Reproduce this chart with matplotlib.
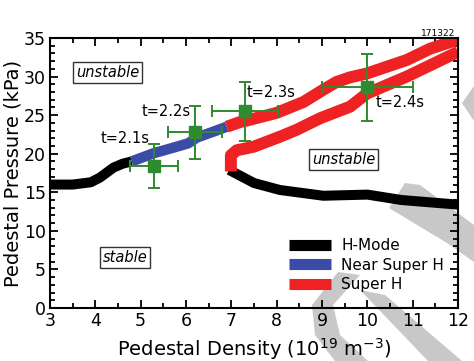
import numpy as np
import matplotlib
matplotlib.use("Agg")
import matplotlib.pyplot as plt
from matplotlib.patches import Polygon
from matplotlib.ticker import MultipleLocator

# H-mode boundary, low density side
hmode_lo_x = [3.0, 3.5, 3.9, 4.1, 4.4, 4.6, 4.8]
hmode_lo_y = [16.0, 16.0, 16.3, 16.9, 18.2, 18.7, 19.0]
# H-mode boundary, high density side
hmode_hi_x = [6.95, 7.5, 8.07, 9.03, 10.0, 10.75, 12.0]
hmode_hi_y = [17.9, 16.2, 15.3, 14.55, 14.7, 14.0, 13.4]
# Near super H
near_x = [4.8, 5.28, 5.79, 6.05, 6.24, 6.6, 6.9]
near_y = [19.0, 20.05, 20.9, 21.35, 22.1, 22.85, 23.5]
# Super H, upper branch
super_up_x = [6.9, 7.19, 7.34, 8.0, 8.59, 9.03, 9.32, 9.62, 9.99, 10.87, 11.38, 12.0]
super_up_y = [23.5, 24.1, 24.3, 25.3, 26.7, 28.3, 29.3, 29.9, 30.4, 32.15, 33.6, 34.8]
# Super H, lower branch
super_lo_x = [6.99, 6.99, 7.12, 7.49, 8.07, 8.44, 8.96, 9.62, 9.99, 10.87, 12.0]
super_lo_y = [17.7, 19.8, 20.45, 20.9, 22.2, 23.1, 24.6, 26.1, 27.8, 30.0, 33.2]

# measurements
meas_t = ["t=2.1s", "t=2.2s", "t=2.3s", "t=2.4s"]
meas_x = [5.3, 6.2, 7.3, 10.0]
meas_y = [18.45, 22.8, 25.5, 28.6]
meas_xerr = [0.53, 0.6, 0.73, 1.0]
meas_yerr = [2.85, 3.45, 3.8, 4.3]
label_pos = [(4.65, 22.0), (5.56, 25.5), (7.88, 27.9), (10.72, 26.6)]

RED = "#ee2222"
BLUE = "#3a4ca8"
GREEN = "#2e8b2e"
FONT = "DejaVu Sans"
plt.rcParams['font.family'] = FONT

fig = plt.figure(figsize=(4.74, 3.61), dpi=100)
fig.patch.set_facecolor("white")

# gray decoration behind the plot (pixel coords)
W, H = 474.0, 361.0
shapes = [
    [(405, 183), (420, 185), (474, 225), (474, 262), (447, 243), (389, 208)],
    [(338, 272), (360, 275), (333, 305), (340, 335), (368, 361), (335, 361), (315, 335), (312, 305)],
    [(360, 290), (385, 295), (462, 361), (428, 361)],
    [(462, 103), (474, 86), (474, 121)],
]
for s in shapes:
    pts = [(px / W, 1 - py / H) for px, py in s]
    fig.add_artist(Polygon(pts, closed=True, facecolor="#c8c8c8", edgecolor="none",
                           transform=fig.transFigure, zorder=-1))

ax = fig.add_axes([50 / W, 1 - 308 / H, 408 / W, 270 / H])
ax.set_facecolor("none")

ax.plot(hmode_lo_x, hmode_lo_y, color="black", lw=7.2, solid_capstyle="butt", label="H-Mode")
ax.plot(hmode_hi_x, hmode_hi_y, color="black", lw=7.2, solid_capstyle="butt")
ax.plot(near_x, near_y, color=BLUE, lw=7.5, solid_capstyle="butt", label="Near Super H")
ax.plot(super_up_x, super_up_y, color=RED, lw=8.6, solid_capstyle="butt", label="Super H")
ax.plot(super_lo_x, super_lo_y, color=RED, lw=8.6, solid_capstyle="butt")

ax.errorbar(meas_x, meas_y, xerr=meas_xerr, yerr=meas_yerr, fmt="s", color=GREEN,
            ms=8.5, elinewidth=1.4, capsize=4, capthick=1.4, zorder=5)
for t, (lx, ly) in zip(meas_t, label_pos):
    ax.text(lx, ly, t, fontsize=10.5, ha="center", va="center", zorder=6)

box = dict(boxstyle="square,pad=0.2", facecolor="white", edgecolor="#333333", lw=1.0)
ax.text(4.27, 30.5, "unstable", style="italic", fontsize=10.5, ha="center", va="center", bbox=box)
ax.text(9.47, 19.2, "unstable", style="italic", fontsize=10.5, ha="center", va="center", bbox=box)
ax.text(4.65, 6.5, "stable", style="italic", fontsize=10.5, ha="center", va="center", bbox=box)

ax.set_xlim(3, 12)
ax.set_ylim(0, 35)
ax.xaxis.set_major_locator(MultipleLocator(1))
ax.xaxis.set_minor_locator(MultipleLocator(0.5))
ax.yaxis.set_major_locator(MultipleLocator(5))
ax.yaxis.set_minor_locator(MultipleLocator(1))
ax.tick_params(which="both", direction="in", top=True, right=True, width=1.3)
ax.tick_params(which="major", length=6, labelsize=12.5, pad=3)
ax.tick_params(which="minor", length=3.5)
for sp in ax.spines.values():
    sp.set_linewidth(1.5)

ax.set_xlabel("Pedestal Density (10$^{19}$ m$^{-3}$)", fontsize=14, labelpad=4)
ax.set_ylabel("Pedestal Pressure (kPa)", fontsize=14, labelpad=1)

leg = ax.legend(loc="lower right", bbox_to_anchor=(1.0, 0.008), frameon=False, fontsize=11,
                handlelength=2.75, handletextpad=0.7, labelspacing=0.3)
for line in leg.get_lines():
    line.set_linewidth(8)

fig.text(438 / W, 1 - 33 / H, "171322", fontsize=6.5, ha="center", va="center")

fig.savefig("out.png", dpi=100)
